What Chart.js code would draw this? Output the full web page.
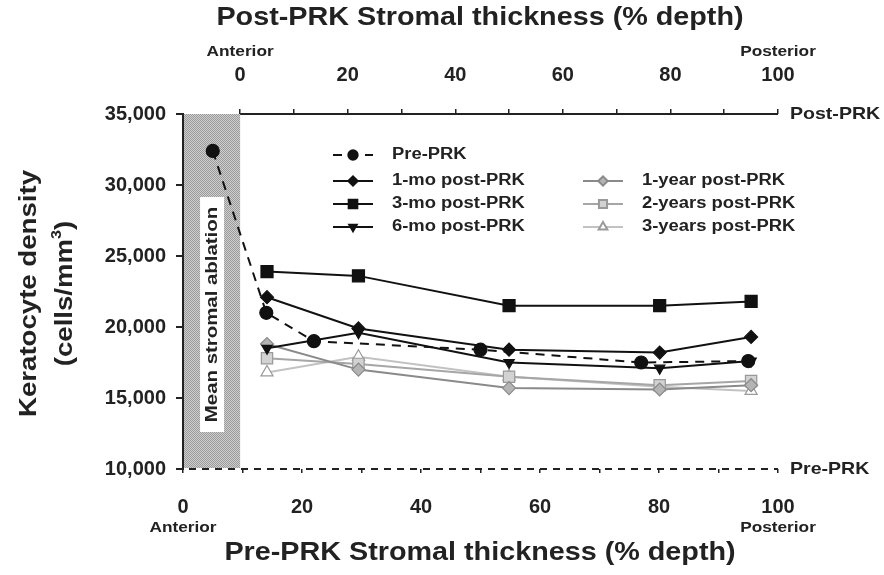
<!DOCTYPE html>
<html>
<head>
<meta charset="utf-8">
<script src="https://cdn.jsdelivr.net/npm/chart.js@4.4.1/dist/chart.umd.min.js"></script>
<style>
  html, body { margin: 0; padding: 0; background: #fff; }
</style>
</head>
<body>
<canvas id="myChart" width="884" height="575"></canvas>
<script>

// depth positions (% of stromal thickness)
var preDepth  = [5, 14, 22, 50, 77, 95];      // on the pre-PRK (bottom) axis
var postDepth = [5, 22, 50, 78, 95];          // on the post-PRK (top) axis

// keratocyte density (cells/mm3)
var prePRK = [32400, 21000, 19000, 18400, 17500, 17600];
var mo1    = [22100, 19900, 18400, 18200, 19300];
var mo3    = [23900, 23600, 21500, 21500, 21800];
var mo6    = [18500, 19600, 17500, 17100, 17600];
var yr1    = [18800, 17000, 15700, 15600, 15900];
var yr2    = [17800, 17400, 16500, 15900, 16200];
var yr3    = [16800, 17900, 16500, 15800, 15500];

var yTicks = [10000, 15000, 20000, 25000, 30000, 35000];
var xTicks = [0, 10, 20, 30, 40, 50, 60, 70, 80, 90, 100];
var ablation = 9.6;   // mean stromal ablation, % of pre-PRK depth

var FONT = "'Liberation Sans', Arial, Helvetica, sans-serif";
var INK = '#222';

function pts(xs, ys) {
	return ys.map(function (v, i) { return { x: xs[i], y: v }; });
}

// text drawn a little wider than the font, like the scanned figure
function wideText(ctx, text, x, y, size, opts) {
	opts = opts || {};
	ctx.save();
	ctx.translate(x, y);
	if (opts.rotate) ctx.rotate(opts.rotate);
	ctx.scale(opts.stretch || 1.15, 1);
	ctx.font = 'bold ' + size + 'px ' + FONT;
	ctx.fillStyle = INK;
	ctx.textAlign = opts.align || 'center';
	ctx.textBaseline = 'middle';
	ctx.fillText(text, 0, 0);
	ctx.restore();
}

function hatch() {
	var c = document.createElement('canvas');
	c.width = 2; c.height = 2;
	var g = c.getContext('2d');
	g.fillStyle = '#cfcfcf'; g.fillRect(0, 0, 2, 2);
	g.fillStyle = '#9a9a9a'; g.fillRect(0, 0, 1, 1); g.fillRect(1, 1, 1, 1);
	return c;
}

var legendSlots = [
	[333, 155], [333, 181], [333, 204], [333, 227],
	[583, 181], [583, 204], [583, 227]
];

var extras = {
	id: 'extras',
	beforeDatasetsDraw: function (chart) {
		var ctx = chart.ctx, a = chart.chartArea;
		var x = chart.scales.x, x2 = chart.scales.x2;
		var l = x.getPixelForValue(0) + 1, r = x2.getPixelForValue(0);

		// mean stromal ablation band
		ctx.save();
		ctx.fillStyle = ctx.createPattern(hatch(), 'repeat');
		ctx.fillRect(l, a.top, r - l, a.bottom - a.top - 1);
		var cx = (l + r) / 2;
		ctx.fillStyle = '#fff';
		ctx.fillRect(cx - 12, a.top + 83, 24, a.bottom - a.top - 120);
		ctx.restore();
		wideText(ctx, 'Mean stromal ablation', cx, a.top + 83 + (a.bottom - a.top - 120) / 2, 17,
			{ rotate: -Math.PI / 2, stretch: 1.2 });

		ctx.save();
		ctx.strokeStyle = INK;
		ctx.lineWidth = 2;
		// post-PRK axis line, only over the remaining stroma
		ctx.beginPath();
		ctx.moveTo(x2.getPixelForValue(0), a.top);
		ctx.lineTo(x2.getPixelForValue(100), a.top);
		ctx.stroke();
		// pre-PRK axis, dashed
		ctx.setLineDash([7, 6]);
		ctx.beginPath();
		ctx.moveTo(x.getPixelForValue(0) - 7, a.bottom);
		ctx.lineTo(x.getPixelForValue(100), a.bottom);
		ctx.stroke();
		ctx.restore();
	},
	afterDraw: function (chart) {
		var ctx = chart.ctx, a = chart.chartArea;
		var x = chart.scales.x, x2 = chart.scales.x2;

		wideText(ctx, 'Post-PRK Stromal thickness (% depth)', 480, 18, 25);
		wideText(ctx, 'Pre-PRK Stromal thickness (% depth)', 480, 553, 25);

		wideText(ctx, 'Anterior', x2.getPixelForValue(0), 52, 15);
		wideText(ctx, 'Posterior', x2.getPixelForValue(100), 52, 15);
		wideText(ctx, 'Anterior', x.getPixelForValue(0), 528, 15);
		wideText(ctx, 'Posterior', x.getPixelForValue(100), 528, 15);

		wideText(ctx, 'Post-PRK', a.right + 12, a.top, 17, { align: 'left' });
		wideText(ctx, 'Pre-PRK', a.right + 12, a.bottom, 17, { align: 'left' });

		// y title
		var cy = (a.top + a.bottom) / 2 + 2;
		wideText(ctx, 'Keratocyte density', 29, cy, 24, { rotate: -Math.PI / 2 });
		ctx.save();
		ctx.translate(65, cy);
		ctx.rotate(-Math.PI / 2);
		ctx.scale(1.15, 1);
		ctx.fillStyle = INK;
		ctx.textBaseline = 'middle';
		var s1 = '(cells/mm', s3 = ')';
		ctx.font = 'bold 14px ' + FONT;
		var wSup = ctx.measureText('3').width;
		ctx.font = 'bold 24px ' + FONT;
		var w = ctx.measureText(s1).width + wSup + ctx.measureText(s3).width;
		var px = -w / 2;
		ctx.textAlign = 'left';
		ctx.fillText(s1, px, 0);
		px += ctx.measureText(s1).width;
		ctx.font = 'bold 14px ' + FONT;
		ctx.fillText('3', px, -8);
		px += wSup;
		ctx.font = 'bold 24px ' + FONT;
		ctx.fillText(s3, px, 0);
		ctx.restore();

		// legend, two columns
		chart.data.datasets.forEach(function (ds, i) {
			var p = legendSlots[i];
			var y = p[1];
			ctx.save();
			ctx.strokeStyle = ds.borderColor;
			ctx.lineWidth = 2;
			ctx.setLineDash(ds.borderDash || []);
			ctx.beginPath();
			ctx.moveTo(p[0], y);
			ctx.lineTo(p[0] + 40, y);
			ctx.stroke();
			ctx.setLineDash([]);
			ctx.fillStyle = ds.pointBackgroundColor;
			ctx.strokeStyle = ds.pointBorderColor;
			Chart.helpers.drawPoint(ctx, {
				pointStyle: ds.pointStyle,
				radius: ds.pointRadius * 0.72,
				rotation: ds.pointRotation || 0,
				borderWidth: 1
			}, p[0] + 20, y);
			ctx.restore();
			wideText(ctx, ds.label, p[0] + 59, y, 16, { align: 'left' });
		});
	}
};

function series(label, xs, ys, axis, line, fill, edge, style, radius, extra) {
	var ds = {
		label: label,
		data: pts(xs, ys),
		xAxisID: axis,
		showLine: true,
		borderColor: line,
		borderWidth: 2,
		pointStyle: style,
		pointRadius: radius,
		pointBackgroundColor: fill,
		pointBorderColor: edge,
		pointBorderWidth: 1.2
	};
	for (var k in extra) ds[k] = extra[k];
	return ds;
}

var tickFont = { family: FONT, size: 20, weight: 'bold' };

const ctx = document.getElementById('myChart').getContext('2d');
const myChart = new Chart(ctx, {
	type: 'scatter',
	data: {
		datasets: [
			series('Pre-PRK', preDepth, prePRK, 'x', '#111', '#111', '#111', 'circle', 6.5, { borderDash: [9, 7] }),
			series('1-mo post-PRK', postDepth, mo1, 'x2', '#111', '#111', '#111', 'rectRot', 6.5),
			series('3-mo post-PRK', postDepth, mo3, 'x2', '#111', '#111', '#111', 'rect', 8.5),
			series('6-mo post-PRK', postDepth, mo6, 'x2', '#111', '#111', '#111', 'triangle', 6, { pointRotation: 180 }),
			series('1-year post-PRK', postDepth, yr1, 'x2', '#8a8a8a', '#b4b4b4', '#8a8a8a', 'rectRot', 6.5),
			series('2-years post-PRK', postDepth, yr2, 'x2', '#a6a6a6', '#d2d2d2', '#999', 'rect', 8),
			series('3-years post-PRK', postDepth, yr3, 'x2', '#c2c2c2', '#ffffff', '#9a9a9a', 'triangle', 7)
		]
	},
	options: {
		responsive: false,
		animation: false,
		layout: { padding: { left: 0, top: 0, right: 106, bottom: 0 } },
		plugins: {
			legend: { display: false },
			tooltip: { enabled: false }
		},
		scales: {
			x: {
				type: 'linear',
				position: 'bottom',
				min: 0,
				max: 100,
				afterFit: function (s) { s.height = 106; },
				afterBuildTicks: function (s) { s.ticks = xTicks.map(function (v) { return { value: v }; }); },
				border: { display: false },
				grid: { drawOnChartArea: false, drawTicks: true, tickLength: 4, color: INK, lineWidth: 1.5 },
				ticks: {
					padding: 22, color: INK, font: tickFont, maxRotation: 0, autoSkip: false,
					callback: function (v) { return v % 20 === 0 ? v : ''; }
				}
			},
			x2: {
				type: 'linear',
				position: 'top',
				min: -ablation / (100 - ablation) * 100,
				max: 100,
				afterFit: function (s) { s.height = 114; },
				afterBuildTicks: function (s) { s.ticks = xTicks.map(function (v) { return { value: v }; }); },
				border: { display: false },
				grid: { drawOnChartArea: false, drawTicks: true, tickLength: 5, color: INK, lineWidth: 1.5 },
				ticks: {
					padding: 22, color: INK, font: tickFont, maxRotation: 0, autoSkip: false,
					callback: function (v) { return v % 20 === 0 ? v : ''; }
				}
			},
			y: {
				type: 'linear',
				min: 10000,
				max: 35000,
				afterFit: function (s) { s.width = 183; },
				afterBuildTicks: function (s) { s.ticks = yTicks.map(function (v) { return { value: v }; }); },
				border: { display: true, color: INK, width: 2 },
				grid: { drawOnChartArea: false, drawTicks: true, tickLength: 7, color: INK, lineWidth: 2 },
				ticks: {
					padding: 10, color: INK, font: tickFont,
					callback: function (v) { return v.toLocaleString('en-US'); }
				}
			}
		}
	},
	plugins: [extras]
});

</script>
</body>
</html>
